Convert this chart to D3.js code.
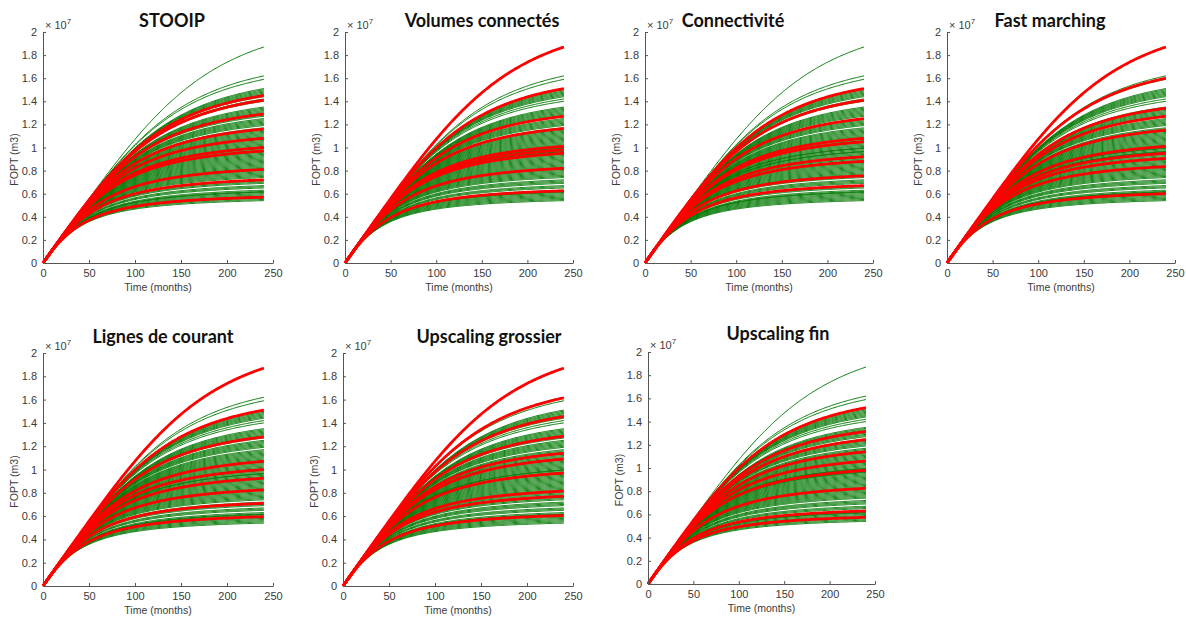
<!DOCTYPE html>
<html>
<head>
<meta charset="utf-8">
<script src="https://cdn.jsdelivr.net/npm/d3@7/dist/d3.min.js"></script>
<style>
  html, body { margin: 0; padding: 0; background: #fff; }
  svg { display: block; }
  .axis text { font-family: "Liberation Sans", Arial, sans-serif; font-size: 11px; fill: #3a3a3a; }
  .axis path, .axis line { stroke: #555; }
</style>
</head>
<body>
<svg id="chart" width="1186" height="617"></svg>
<script>
// ---------------- DATA (values in 1e7 m3) ----------------
const panelTitles = ["STOOIP", "Volumes connectés", "Connectivité", "Fast marching",
                     "Lignes de courant", "Upscaling grossier", "Upscaling fin"];
const xTicks = [0, 50, 100, 150, 200, 250];
const yTicks = [0, 0.2, 0.4, 0.6, 0.8, 1, 1.2, 1.4, 1.6, 1.8, 2];
const horizonMonths = 240;
// common early production rate (1e7 m3 per month) read from the shared initial slope
const initialRate = 0.0112;
const shapeRange = [1.5, 3.0];

// FOPT at 240 months of the ensemble (green), same in every panel
const greenFinals = [1.87, 1.62, 1.59,
  1.51, 1.50, 1.49, 1.48, 1.47, 1.46, 1.45, 1.44, 1.42, 1.40,
  1.35, 1.34, 1.33, 1.32, 1.31, 1.30, 1.29, 1.28, 1.27, 1.25, 1.24, 1.23, 1.22, 1.21, 1.20, 1.19, 1.17, 1.16, 1.15,
  1.14, 1.13, 1.12, 1.11, 1.10, 1.09, 1.08, 1.07, 1.06, 1.05, 1.04, 1.03, 1.02, 1.01, 1.00, 0.995, 0.99, 0.98,
  0.97, 0.965, 0.96, 0.95, 0.94, 0.93, 0.92, 0.91, 0.90, 0.89, 0.88, 0.87, 0.86, 0.85, 0.84, 0.83, 0.82, 0.81,
  0.80, 0.79, 0.78, 0.77, 0.76, 0.75, 0.74, 0.72, 0.71, 0.70, 0.69, 0.67, 0.66, 0.65, 0.63, 0.62, 0.615, 0.61,
  0.60, 0.59, 0.58, 0.57, 0.56, 0.55, 0.54];

// selected models (red) per method
const redStooip    = [1.45, 1.41, 1.29, 1.16, 1.08, 1.00, 0.97, 0.81, 0.72, 0.57];
const redVolumes   = [1.87, 1.51, 1.27, 1.165, 1.01, 0.98, 0.95, 0.82, 0.625];
const redConnect   = [1.51, 1.41, 1.25, 1.08, 1.05, 0.92, 0.88, 0.755, 0.67];
const redFastMarch = [1.87, 1.60, 1.34, 1.27, 1.15, 1.01, 0.95, 0.905, 0.835, 0.60];
const redLignes    = [1.87, 1.51, 1.28, 1.07, 1.00, 0.925, 0.825, 0.71, 0.595];
const redUpGros    = [1.87, 1.615, 1.455, 1.285, 1.14, 1.09, 0.97, 0.815, 0.77, 0.605];
const redUpFin     = [1.52, 1.315, 1.245, 1.14, 1.06, 0.98, 0.825, 0.63, 0.575];
const redSets = [redStooip, redVolumes, redConnect, redFastMarch, redLignes, redUpGros, redUpFin];

// ---------------- LAYOUT ----------------
const frames = [
  {l: 43,  r: 273,  t: 32,  b: 263, tx: 172,  ty: 27},
  {l: 345, r: 573,  t: 32,  b: 263, tx: 482,  ty: 27},
  {l: 645, r: 873,  t: 32,  b: 263, tx: 733,  ty: 27},
  {l: 947, r: 1175, t: 32,  b: 263, tx: 1050, ty: 27},
  {l: 43,  r: 273,  t: 353, b: 586, tx: 163,  ty: 343},
  {l: 343, r: 573,  t: 353, b: 586, tx: 489,  ty: 343},
  {l: 648, r: 875,  t: 352, b: 584, tx: 778,  ty: 340}
];

const months = d3.range(0, horizonMonths + 1, 1);
const vMin = d3.min(greenFinals), vMax = d3.max(greenFinals);

// cumulative production curve reaching `final` at the horizon
function curve(final) {
  const n = shapeRange[0] + (shapeRange[1] - shapeRange[0]) * (final - vMin) / (vMax - vMin);
  const qT = initialRate * horizonMonths;
  const A = qT / Math.pow(Math.pow(qT / final, n) - 1, 1 / n);
  return months.map(t => {
    const x = initialRate * t;
    return [t, x / Math.pow(1 + Math.pow(x / A, n), 1 / n)];
  });
}

const svg = d3.select("#chart");

frames.forEach((f, i) => {
  const x = d3.scaleLinear().domain([0, 250]).range([f.l, f.r]);
  const y = d3.scaleLinear().domain([0, 2]).range([f.b, f.t]);
  const line = d3.line().x(d => x(d[0])).y(d => y(d[1]));
  const g = svg.append("g");

  g.append("g").selectAll("path").data(greenFinals).join("path")
    .attr("d", d => line(curve(d)))
    .attr("fill", "none").attr("stroke", "#007800").attr("stroke-width", 1);

  g.append("g").selectAll("path").data(redSets[i]).join("path")
    .attr("d", d => line(curve(d)))
    .attr("fill", "none").attr("stroke", "#ff0000").attr("stroke-width", 2.8);

  g.append("g").attr("class", "axis").attr("transform", `translate(0,${f.b})`)
    .call(d3.axisBottom(x).tickValues(xTicks).tickSize(-3).tickSizeOuter(0).tickPadding(6));
  g.append("g").attr("class", "axis").attr("transform", `translate(${f.l},0)`)
    .call(d3.axisLeft(y).tickValues(yTicks).tickSize(-3).tickSizeOuter(0).tickPadding(6)
      .tickFormat(d => d3.format("~g")(d)));

  g.append("text").attr("x", f.l + 2).attr("y", f.t - 3)
    .attr("font-family", "Liberation Sans, Arial, sans-serif").attr("font-size", 11).attr("fill", "#3a3a3a")
    .text("× 10")
    .append("tspan").attr("dy", -5).attr("font-size", 8).text("7");

  g.append("text").attr("x", (f.l + f.r) / 2).attr("y", f.b + 28)
    .attr("text-anchor", "middle")
    .attr("font-family", "Liberation Sans, Arial, sans-serif").attr("font-size", 10.5).attr("fill", "#3a3a3a")
    .text("Time (months)");

  const cy = (f.t + f.b) / 2 + 12;
  g.append("text").attr("transform", `translate(${f.l - 25},${cy}) rotate(-90)`)
    .attr("text-anchor", "middle")
    .attr("font-family", "Liberation Sans, Arial, sans-serif").attr("font-size", 10.5).attr("fill", "#3a3a3a")
    .text("FOPT (m3)");

  g.append("text").attr("x", f.tx).attr("y", f.ty).attr("text-anchor", "middle")
    .attr("font-family", "Lato, 'Open Sans', sans-serif").attr("font-weight", "bold")
    .attr("font-size", 18).attr("fill", "#111")
    .text(panelTitles[i]);
});
</script>
</body>
</html>
